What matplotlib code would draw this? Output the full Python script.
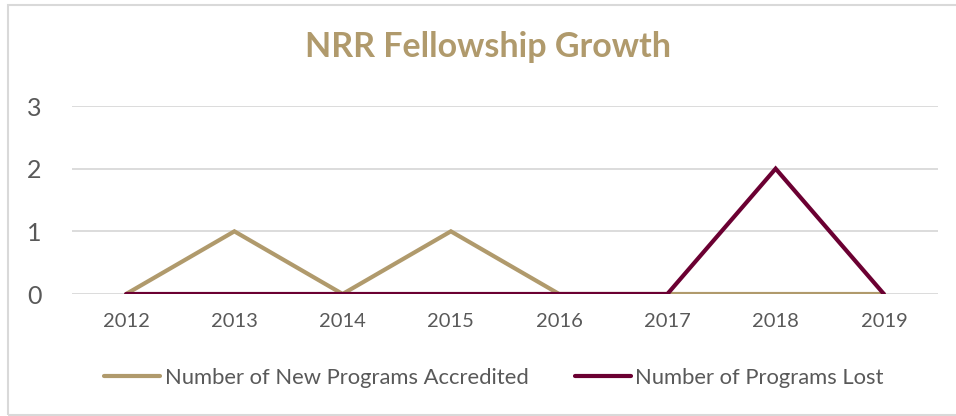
import matplotlib
matplotlib.use("Agg")
import matplotlib.pyplot as plt
from matplotlib.patches import Rectangle

C_GOLD = "#B09A6C"
C_MAROON = "#6B0032"
C_GRID = "#D9D9D9"
C_TEXT = "#595959"

years = ["2012", "2013", "2014", "2015", "2016", "2017", "2018", "2019"]
new_accredited = [0, 1, 0, 1, 0, 0, 0, 0]
programs_lost = [0, 0, 0, 0, 0, 0, 2, 0]
series_labels = ["Number of New Programs Accredited", "Number of Programs Lost"]

plt.rcParams["font.family"] = ["Lato", "DejaVu Sans"]

W, H = 956, 416
fig = plt.figure(figsize=(W / 100, H / 100), dpi=100)
fig.patch.set_facecolor("white")

# outer chart frame
fig.patches.append(Rectangle((8 / W, 1 / H), 1.2, (415 - 5) / H,
                             transform=fig.transFigure, fill=False,
                             edgecolor=C_GRID, linewidth=1.5))

ax = fig.add_axes([72 / W, (H - 294) / H, (938 - 72) / W, (294 - 106) / H])
x = range(len(years))
ax.plot(x, new_accredited, color=C_GOLD, linewidth=3.0,
        solid_capstyle="round", solid_joinstyle="miter", label=series_labels[0], zorder=3)
ax.plot(x, programs_lost, color=C_MAROON, linewidth=3.0,
        solid_capstyle="round", solid_joinstyle="miter", label=series_labels[1], zorder=4)

ax.set_xlim(-0.5, len(years) - 0.5)
ax.set_ylim(0, 3)
ax.set_yticks([0, 1, 2, 3])
ax.set_xticks(list(x))
ax.set_xticklabels(years)
ax.yaxis.grid(True, color=C_GRID, linewidth=1.3)
ax.set_axisbelow(True)
for s in ax.spines.values():
    s.set_visible(False)
ax.tick_params(axis="both", length=0, colors=C_TEXT)
ax.tick_params(axis="y", labelsize=18, pad=22)
ax.tick_params(axis="x", labelsize=14.5, pad=14)

fig.text(488 / W, 1 - 47 / H, "NRR Fellowship Growth", ha="center", va="center",
         fontsize=24.5, fontweight="bold", color=C_GOLD)

leg = fig.legend(loc="center", bbox_to_anchor=(494 / W, 1 - 378 / H), ncol=2,
                 frameon=False, fontsize=15.8, handlelength=2.55, handletextpad=0.2,
                 columnspacing=2.1)
for t in leg.get_texts():
    t.set_color(C_TEXT)

fig.savefig("out.png", dpi=100, facecolor="white")
